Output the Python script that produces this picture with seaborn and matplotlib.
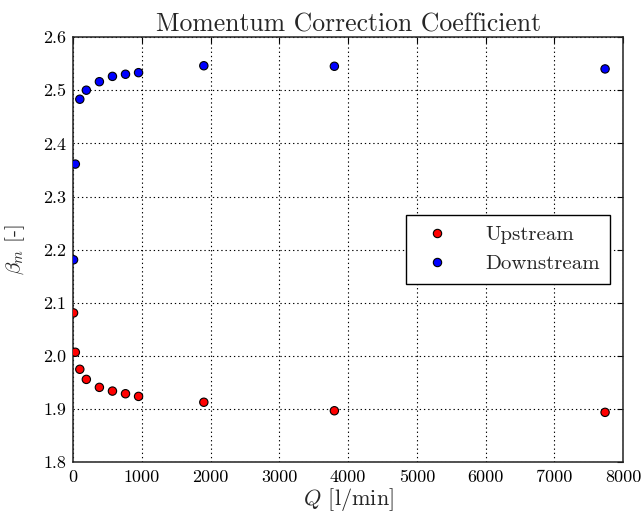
import matplotlib
matplotlib.use("Agg")
import matplotlib.pyplot as plt
import seaborn as sns
import pandas as pd

# Flow rate [l/min] and momentum correction coefficients
flow_rate = [4, 30, 95, 190, 380, 570, 760, 950, 1900, 3800, 7740]
beta_upstream = [2.081, 2.007, 1.975, 1.956, 1.941, 1.934, 1.929, 1.924, 1.913, 1.897, 1.894]
beta_downstream = [2.181, 2.361, 2.483, 2.500, 2.516, 2.526, 2.530, 2.533, 2.546, 2.545, 2.540]
series_names = ["Upstream", "Downstream"]
x_ticks = [0, 1000, 2000, 3000, 4000, 5000, 6000, 7000, 8000]
y_ticks = [1.8, 1.9, 2.0, 2.1, 2.2, 2.3, 2.4, 2.5, 2.6]

df = pd.DataFrame({
    "Q": flow_rate + flow_rate,
    "beta": beta_upstream + beta_downstream,
    "section": [series_names[0]] * len(flow_rate) + [series_names[1]] * len(flow_rate),
})

sns.set_style("white")
plt.rcParams["font.family"] = "serif"
plt.rcParams["font.serif"] = ["cmr10"]
plt.rcParams["mathtext.fontset"] = "cm"
plt.rcParams["axes.formatter.use_mathtext"] = True
plt.rcParams["axes.unicode_minus"] = False

fig = plt.figure(figsize=(6.44, 5.18), dpi=100)
ax = fig.add_axes([0.1138, 0.1075, 0.8535, 0.821])

sns.scatterplot(
    data=df, x="Q", y="beta", hue="section",
    palette={"Upstream": "red", "Downstream": "blue"},
    s=36, edgecolor="black", linewidth=0.8, ax=ax, zorder=3,
)

ax.set_xlim(0, 8000)
ax.set_ylim(1.8, 2.6)
ax.set_xticks(x_ticks)
ax.set_yticks(y_ticks)
ax.set_xticklabels([str(t) for t in x_ticks])
ax.set_yticklabels([f"{t:.1f}" for t in y_ticks])
ax.grid(True, color="black", linestyle=(0, (1.2, 2.6)), linewidth=0.8)
ax.set_axisbelow(True)
ax.tick_params(direction="in", top=True, right=True, length=4, width=0.8,
               labelsize=13, pad=5, colors="black")
for sp in ax.spines.values():
    sp.set_color("#222222")
    sp.set_linewidth(1.1)

ax.set_title("Momentum Correction Coefficient", fontsize=18.5, pad=4)
ax.set_xlabel(r"$Q$ [l/min]", fontsize=16, labelpad=1)
ax.set_ylabel(r"$\beta_m$ [-]", fontsize=15, labelpad=12)

leg = ax.legend(loc="center right", fontsize=15, frameon=True, fancybox=False,
                edgecolor="black", borderpad=0.5, handletextpad=1.3,
                markerscale=1.0, borderaxespad=0.6, title=None)
leg.get_frame().set_linewidth(1.0)
leg.get_frame().set_alpha(1.0)

fig.savefig("out.png", dpi=100)
